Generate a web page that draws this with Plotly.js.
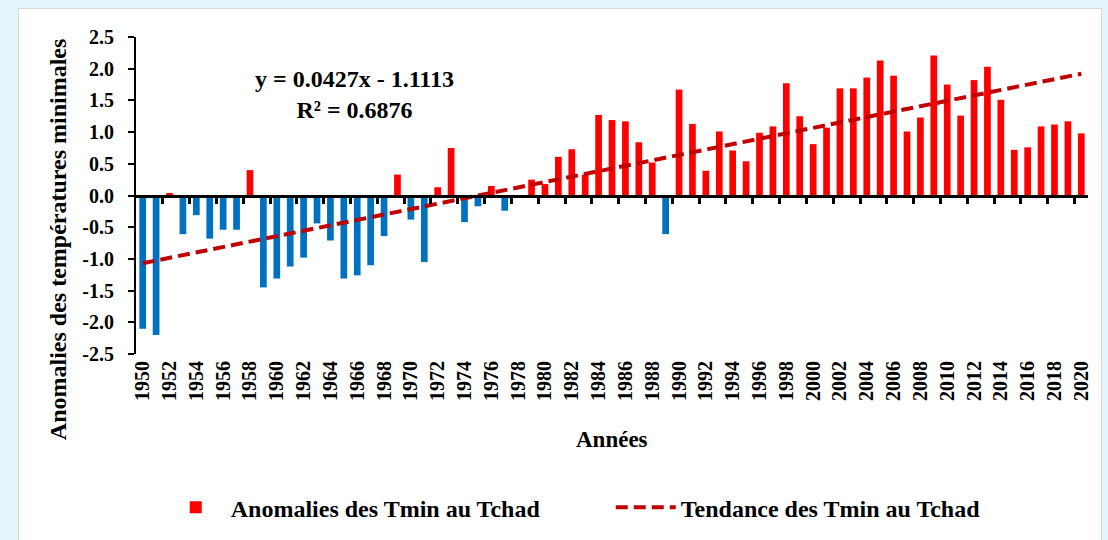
<!DOCTYPE html>
<html>
<head>
<meta charset="utf-8">
<script src="https://cdn.plot.ly/plotly-3.0.1.min.js"></script>
<style>
  html, body { margin: 0; padding: 0; width: 1108px; height: 540px; overflow: hidden;
    background: #e4f5fb; }
  #frame { position: absolute; left: 18px; top: 8px; width: 1084px; height: 540px;
    background: #ffffff; border: 1px solid #d6d6d6; box-sizing: border-box; }
  #chart { position: absolute; left: 0; top: 0; width: 1108px; height: 540px; }
</style>
</head>
<body>
<div id="frame"></div>
<div id="chart"></div>
<script>
// ---- data ----
const years = [1950,1951,1952,1953,1954,1955,1956,1957,1958,1959,
  1960,1961,1962,1963,1964,1965,1966,1967,1968,1969,
  1970,1971,1972,1973,1974,1975,1976,1977,1978,1979,
  1980,1981,1982,1983,1984,1985,1986,1987,1988,1989,
  1990,1991,1992,1993,1994,1995,1996,1997,1998,1999,
  2000,2001,2002,2003,2004,2005,2006,2007,2008,2009,
  2010,2011,2012,2013,2014,2015,2016,2017,2018,2019,2020];
const anomalies = [-2.10,-2.20,0.04,-0.61,-0.31,-0.68,-0.54,-0.54,0.40,-1.45,
  -1.31,-1.12,-0.98,-0.44,-0.71,-1.31,-1.26,-1.10,-0.64,0.33,
  -0.38,-1.05,0.13,0.75,-0.42,-0.17,0.15,-0.24,0.00,0.25,
  0.18,0.61,0.73,0.33,1.27,1.19,1.17,0.84,0.52,-0.61,
  1.67,1.13,0.39,1.01,0.71,0.54,0.99,1.09,1.77,1.25,
  0.81,1.07,1.69,1.69,1.86,2.13,1.89,1.01,1.23,2.21,
  1.75,1.26,1.82,2.03,1.51,0.72,0.76,1.09,1.12,1.17,0.98];
const trendSlope = 0.0427;
const trendIntercept = -1.1113;
const rSquared = 0.6876;
const xLabelYears = [1950,1952,1954,1956,1958,1960,1962,1964,1966,1968,1970,1972,1974,1976,1978,
  1980,1982,1984,1986,1988,1990,1992,1994,1996,1998,2000,2002,2004,2006,2008,2010,2012,2014,2016,2018,2020];
const xTickMarks = [1951.5,1953.5,1955.5,1957.5,1959.5,1961.5,1963.5,1965.5,1967.5,1969.5,
  1971.5,1973.5,1975.5,1977.5,1979.5,1981.5,1983.5,1985.5,1987.5,1989.5,1991.5,1993.5,
  1995.5,1997.5,1999.5,2001.5,2003.5,2005.5,2007.5,2009.5,2011.5,2013.5,2015.5,2017.5,2019.5];
const yTickVals = [-2.5,-2.0,-1.5,-1.0,-0.5,0.0,0.5,1.0,1.5,2.0,2.5];
const yTickText = ['-2.5','-2.0','-1.5','-1.0','-0.5','0.0','0.5','1.0','1.5','2.0','2.5'];
const barName = 'Anomalies des Tmin au Tchad';
const trendName = 'Tendance des Tmin au Tchad';
const yTitle = 'Anomalies des températures minimales';
const xTitle = 'Années';

// ---- derived ----
const posVals = anomalies.map(v => v >= 0 ? v : null);
const negVals = anomalies.map(v => v < 0 ? v : null);
const trendVals = years.map((y, i) => trendSlope * (i + 1) + trendIntercept);

const FONT = 'Liberation Serif, Times New Roman, serif';

const traces = [
  { type: 'bar', x: years, y: posVals, name: barName, marker: { color: '#ff0000', line: { width: 0 } },
    xaxis: 'x', yaxis: 'y', showlegend: true },
  { type: 'bar', x: years, y: negVals, name: barName + ' (neg)', marker: { color: '#0070c0', line: { width: 0 } },
    xaxis: 'x', yaxis: 'y', showlegend: false },
  { type: 'scatter', mode: 'lines', x: years, y: trendVals, name: trendName,
    line: { color: '#c00000', width: 4, dash: '12px,6px' }, xaxis: 'x2', yaxis: 'y' }
];

const layout = {
  width: 1108, height: 540,
  margin: { l: 136, r: 20, t: 37, b: 185, pad: 0 },
  paper_bgcolor: 'rgba(0,0,0,0)',
  plot_bgcolor: 'rgba(0,0,0,0)',
  font: { family: FONT, color: '#000', weight: 'bold', size: 20 },
  barmode: 'relative',
  bargap: 0.5,
  showlegend: true,
  xaxis: {
    range: [1949.5, 2020.5], tickmode: 'array', tickvals: xLabelYears,
    ticktext: xLabelYears.map(String), tickangle: -90, ticks: '',
    showline: false, showgrid: false, zeroline: false,
    tickfont: { family: FONT, size: 20, color: '#000', weight: 'bold' },
    ticklabelstandoff: 2
  },
  xaxis2: {
    overlaying: 'x', anchor: 'free', position: 0.5, side: 'bottom',
    range: [1949.5, 2020.5], tickmode: 'array', tickvals: xTickMarks,
    ticks: 'outside', ticklen: 6, tickwidth: 3, tickcolor: '#000',
    showticklabels: false, showline: true, linewidth: 3, linecolor: '#000',
    showgrid: false, zeroline: false, layer: 'above traces'
  },
  yaxis: {
    range: [-2.5, 2.5], tickmode: 'array', tickvals: yTickVals, ticktext: yTickText,
    ticks: 'outside', ticklen: 6, tickwidth: 2, tickcolor: '#000',
    showline: true, linewidth: 2, linecolor: '#000',
    showgrid: false, zeroline: false,
    tickfont: { family: FONT, size: 20, color: '#000', weight: 'bold' },
    ticklabelstandoff: 10
  },
  legend: {
    orientation: 'h', x: 0.026, xanchor: 'left', y: -0.48, yanchor: 'middle',
    font: { family: FONT, size: 24, color: '#000', weight: 'bold' },
    itemwidth: 60, entrywidth: 375, bgcolor: 'rgba(0,0,0,0)'
  },
  annotations: [
    { xref: 'paper', yref: 'paper', x: 0.229, y: 0.818, xanchor: 'center', yanchor: 'middle',
      text: 'y = ' + trendSlope.toFixed(4) + 'x - ' + Math.abs(trendIntercept).toFixed(4) + '<br>R² = ' + rSquared.toFixed(4),
      showarrow: false, align: 'center',
      font: { family: FONT, size: 24, color: '#000', weight: 'bold' } },
    { xref: 'paper', yref: 'paper', x: -0.082, y: 0.362, xanchor: 'center', yanchor: 'middle',
      text: yTitle, textangle: -90, showarrow: false,
      font: { family: FONT, size: 24, color: '#000', weight: 'bold' } },
    { xref: 'paper', yref: 'paper', x: 0.5, y: -0.27, xanchor: 'center', yanchor: 'middle',
      text: xTitle, showarrow: false,
      font: { family: FONT, size: 23, color: '#000', weight: 'bold' } }
  ]
};

Plotly.newPlot('chart', traces, layout, { staticPlot: true, displayModeBar: false });
</script>
</body>
</html>
